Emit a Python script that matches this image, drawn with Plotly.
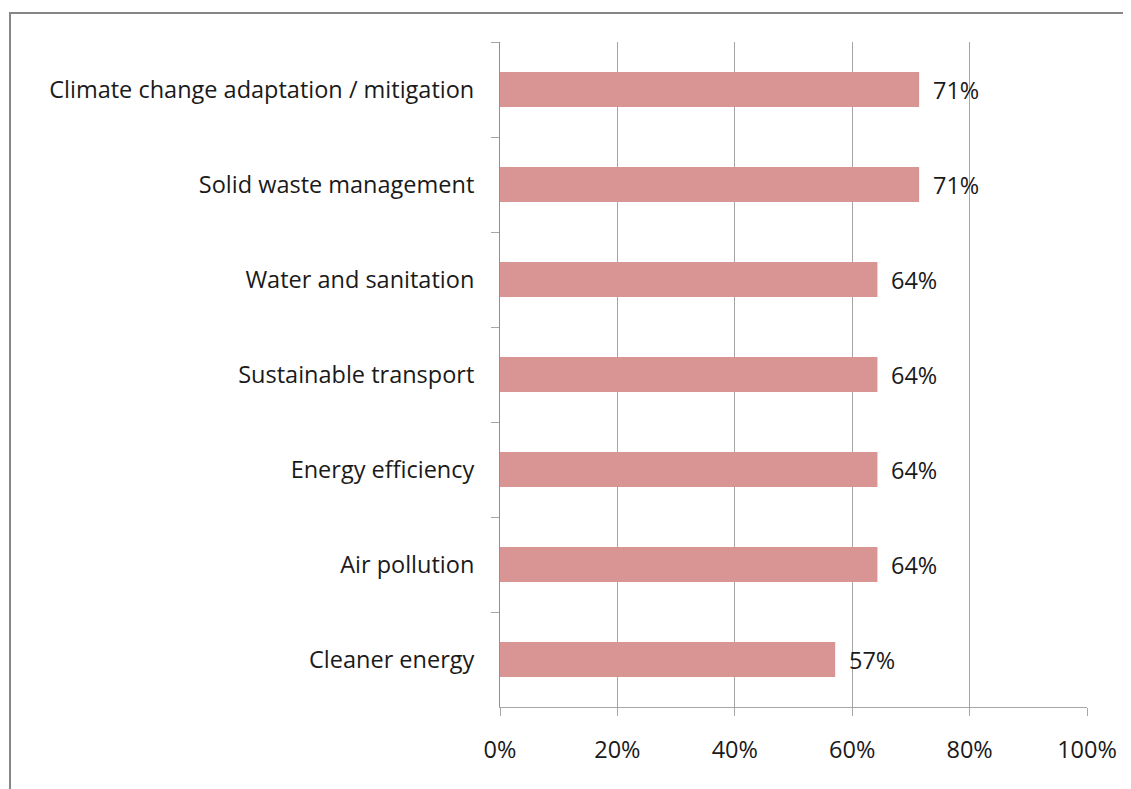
import plotly.graph_objects as go

categories = [
    "Climate change adaptation / mitigation",
    "Solid waste management",
    "Water and sanitation",
    "Sustainable transport",
    "Energy efficiency",
    "Air pollution",
    "Cleaner energy",
]
values = [0.714, 0.714, 0.643, 0.643, 0.643, 0.643, 0.571]
x_ticks = [0, 0.2, 0.4, 0.6, 0.8, 1.0]
x_tick_labels = ["0%", "20%", "40%", "60%", "80%", "100%"]

W, H = 1131, 789
OFF = 8  # page body margin
ML, MR, MT, MB = 500 - OFF, 44 + OFF, 42 - OFF, 82 + OFF
FONT = "Open Sans"
FS = 23.5
GRID = "#A6A6A6"
TXT = "#1a1a1a"

fig = go.Figure()
fig.add_trace(go.Bar(
    y=categories, x=values, orientation="h",
    marker=dict(color="#D99594", line=dict(width=0)),
    width=0.37,
    hoverinfo="skip",
))

for c, v in zip(categories, values):
    fig.add_annotation(
        x=v, y=c, xref="x", yref="y",
        text=f"{v:.0%}", showarrow=False,
        xanchor="left", xshift=12,
        font=dict(family=FONT, size=FS, color=TXT),
    )

# chart-area border (pixel positions converted to paper coordinates)
pw = W - ML - MR
ph = H - MT - MB
bx0, by0 = 10 - OFF, 13 - OFF
fig.add_shape(
    type="rect", xref="paper", yref="paper",
    x0=(bx0 - ML) / pw, x1=(W + 5 - ML) / pw,
    y0=1 - (H + 5 - MT) / ph, y1=1 - (by0 - MT) / ph,
    line=dict(color="#868686", width=2), fillcolor="rgba(0,0,0,0)",
    layer="below",
)

fig.update_layout(
    width=W, height=H,
    margin=dict(l=ML, r=MR, t=MT, b=MB, pad=0),
    paper_bgcolor="white", plot_bgcolor="white",
    showlegend=False,
    font=dict(family=FONT, size=FS, color=TXT),
    xaxis=dict(
        range=[0, 1], tickvals=x_ticks, ticktext=x_tick_labels,
        showgrid=True, gridcolor=GRID, gridwidth=1,
        zeroline=False, showline=True, linecolor=GRID, linewidth=1,
        ticks="outside", ticklen=8, tickcolor=GRID,
        ticklabelstandoff=14,
        tickfont=dict(family=FONT, size=FS, color=TXT),
    ),
    yaxis=dict(
        type="category", autorange="reversed",
        showgrid=False, zeroline=False,
        showline=True, linecolor="#909090", linewidth=1,
        ticks="outside", ticklen=8, tickcolor=GRID, tickson="boundaries",
        ticklabelstandoff=20,
        tickfont=dict(family=FONT, size=FS, color=TXT),
    ),
)

fig.write_html("out.html")
